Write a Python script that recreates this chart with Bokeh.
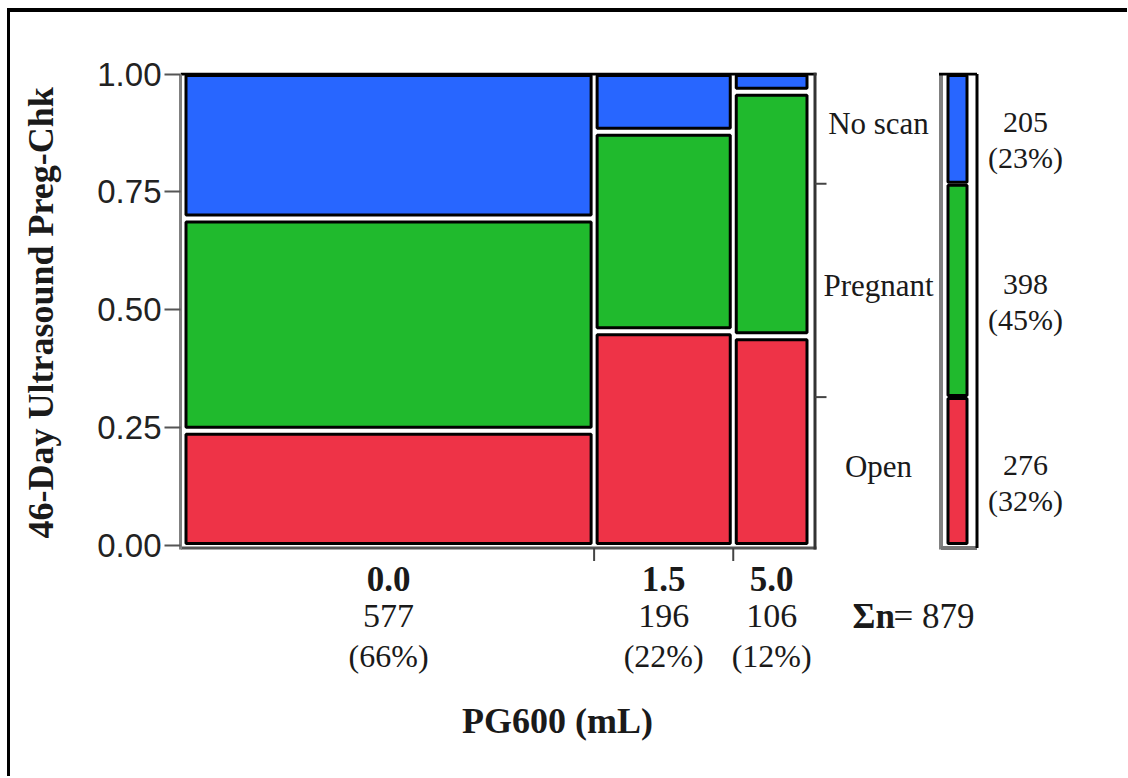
import math
from bokeh.plotting import figure
from bokeh.layouts import row
from bokeh.models import Range1d, LinearAxis, FixedTicker, NumeralTickFormatter
from bokeh.core.properties import value
from bokeh.embed import file_html
from bokeh.resources import INLINE

# ---------------- data ----------------
doses = ["0.0", "1.5", "5.0"]                 # PG600 (mL) groups
levels = ["Open", "Pregnant", "No scan"]      # response levels, bottom to top
open_n = [140, 89, 47]
pregnant_n = [260, 83, 55]
noscan_n = [177, 24, 4]
col_pct_labels = ["(66%)", "(22%)", "(12%)"]
level_pct_labels = ["(32%)", "(45%)", "(23%)"]
level_colors = ["#EE3347", "#20BA2D", "#2866FF"]
y_ticks = [0, 0.25, 0.5, 0.75, 1.0]
x_title = "PG600 (mL)"
y_title = "46-Day Ultrasound Preg-Chk"

counts = [open_n, pregnant_n, noscan_n]
col_tot = [sum(c) for c in zip(*counts)]
N = sum(col_tot)
level_tot = [sum(c) for c in counts]

# ---------------- scales (pixel helpers) ----------------
dx = 1 / 624.0
dy = 1 / 471.0

SERIF = "Liberation Serif"
SANS = "Liberation Sans"
TXT = "#1a1a1a"
H = 764

yr = Range1d(-231.5 * dy, 1 + 1.5 * dy)

# ---------------- y title strip ----------------
pt = figure(width=60, height=H, output_backend="svg", toolbar_location=None,
            x_range=Range1d(0, 60), y_range=yr,
            min_border_left=0, min_border_right=0, min_border_top=60, min_border_bottom=0,
            x_axis_type=None, y_axis_type=None)
pt.outline_line_color = None
pt.xgrid.visible = False
pt.ygrid.visible = False
pt.text(x=[30], y=[0.493], text=[y_title], angle=math.pi / 2, text_font=value(SERIF),
        text_font_style="bold", text_font_size="36px", text_color=TXT,
        text_align="center", text_baseline="middle")

# ---------------- main plot ----------------
p = figure(width=1057, height=H, output_backend="svg", toolbar_location=None,
           x_range=Range1d(-4 * dx, 916 * dx), y_range=yr,
           min_border_left=110, min_border_right=27, min_border_top=60, min_border_bottom=0,
           x_axis_type=None, y_axis_type=None)
p.outline_line_color = None
p.background_fill_color = "white"
p.border_fill_color = "white"

yaxis = LinearAxis(ticker=FixedTicker(ticks=y_ticks), formatter=NumeralTickFormatter(format="0.00"),
                   bounds=(-4.5 * dy, 1.0))
yaxis.axis_line_color = "#808080"
yaxis.axis_line_width = 3
yaxis.major_tick_line_color = "#555555"
yaxis.major_tick_line_width = 2
yaxis.major_tick_out = 16
yaxis.major_tick_in = 0
yaxis.minor_tick_line_color = None
yaxis.major_label_text_font = SANS
yaxis.major_label_text_font_size = "33px"
yaxis.major_label_text_color = "#222222"
yaxis.major_label_standoff = 3
p.add_layout(yaxis, "left")

# ---------------- mosaic cells ----------------
gx, gy = 6 * dx, 7 * dy
L, R, B, T, C = [], [], [], [], []
cx = 0.0
col_centers = []
col_bounds = []
for j in range(len(doses)):
    w = col_tot[j] / N
    l = cx + (gx / 2 if j > 0 else 1.5 * dx)
    r = cx + w - (gx / 2 if j < len(doses) - 1 else 1.5 * dx)
    col_centers.append((l + r) / 2)
    cy = 0.0
    for k in range(len(levels)):
        h = counts[k][j] / col_tot[j]
        b = cy + (gy / 2 if k > 0 else 1.5 * dy)
        t = cy + h - (gy / 2 if k < len(levels) - 1 else 1.5 * dy)
        L.append(l); R.append(r); B.append(b); T.append(t); C.append(level_colors[k])
        cy += h
    cx += w
    if j < len(doses) - 1:
        col_bounds.append(cx)
p.quad(left=L, right=R, bottom=B, top=T, fill_color=C, line_color="black", line_width=3)

# frame lines of the mosaic
x_axis_right = 1 + 6.5 * dx
p.segment(x0=[-4 * dx], y0=[1.0], x1=[1 + 8 * dx], y1=[1.0], line_color="black", line_width=3)
p.segment(x0=[-4 * dx], y0=[-3 * dy], x1=[1 + 8 * dx], y1=[-3 * dy], line_color="#555555", line_width=3)
p.segment(x0=[x_axis_right], y0=[-4.5 * dy], x1=[x_axis_right], y1=[1 + 1.5 * dy],
          line_color="#333333", line_width=3)
# bottom ticks at column boundaries
p.segment(x0=col_bounds, y0=[-3 * dy] * len(col_bounds), x1=col_bounds,
          y1=[-16 * dy] * len(col_bounds), line_color="#444444", line_width=2)

# right axis ticks at marginal boundaries
lev_bounds = []
acc = 0
for t in level_tot[:-1]:
    acc += t
    lev_bounds.append(acc / N)
p.segment(x0=[x_axis_right] * len(lev_bounds), y0=lev_bounds,
          x1=[1 + 18 * dx] * len(lev_bounds), y1=lev_bounds, line_color="#444444", line_width=2)

# level centers
lev_centers = []
acc = 0
for t in level_tot:
    lev_centers.append((acc + t / 2) / N)
    acc += t

# category labels on the right of mosaic
p.text(x=[694 * dx] * 3, y=[c + 5 * dy for c in lev_centers], text=levels,
       text_font=value(SERIF), text_font_size="31px", text_color=TXT,
       text_align="center", text_baseline="middle")

# ---------------- marginal bar ----------------
mb_l, mb_r = 763.5 * dx, 782.5 * dx
bx_l, bx_r = 756.5 * dx, 792.5 * dx
ML, MR, MB, MT = [], [], [], []
cy = 0.0
for k in range(len(levels)):
    h = level_tot[k] / N
    ML.append(mb_l); MR.append(mb_r); MB.append(cy + 1.5 * dy); MT.append(cy + h - 1.5 * dy)
    cy += h
p.quad(left=ML, right=MR, bottom=MB, top=MT, fill_color=level_colors, line_color="black", line_width=3)
p.segment(x0=[bx_l], y0=[-4.5 * dy], x1=[bx_l], y1=[1.0], line_color="#808080", line_width=4)
p.segment(x0=[bx_l], y0=[-3 * dy], x1=[bx_r], y1=[-3 * dy], line_color="#777777", line_width=4)
p.segment(x0=[bx_l - 2 * dx], y0=[1.0], x1=[bx_r], y1=[1.0], line_color="black", line_width=3)
p.segment(x0=[bx_r], y0=[-3 * dy], x1=[bx_r], y1=[1.0], line_color="black", line_width=3)

# counts and percents next to marginal bar
p.text(x=[841 * dx] * 3, y=[c + 6 * dy for c in lev_centers], text=[str(t) for t in level_tot],
       text_font=value(SERIF), text_font_size="30px", text_color=TXT,
       text_align="center", text_baseline="middle")
p.text(x=[841 * dx] * 3, y=[c - 29 * dy for c in lev_centers], text=level_pct_labels,
       text_font=value(SERIF), text_font_size="30px", text_color=TXT,
       text_align="center", text_baseline="middle")

# ---------------- bottom labels ----------------
p.text(x=col_centers, y=[-33.5 * dy] * 3, text=doses, text_font=value(SERIF),
       text_font_style="bold", text_font_size="35px", text_color=TXT,
       text_align="center", text_baseline="middle")
p.text(x=col_centers, y=[-71 * dy] * 3, text=[str(t) for t in col_tot], text_font=value(SERIF),
       text_font_size="34px", text_color=TXT, text_align="center", text_baseline="middle")
p.text(x=col_centers, y=[-111 * dy] * 3, text=col_pct_labels, text_font=value(SERIF),
       text_font_size="32px", text_color=TXT, text_align="center", text_baseline="middle")

p.text(x=[668 * dx], y=[-71 * dy], text=["Σn"], text_font=value(SERIF), text_font_style="bold",
       text_font_size="35px", text_color=TXT, text_align="left", text_baseline="middle")
p.text(x=[709 * dx], y=[-71 * dy], text=["= %d" % N], text_font=value(SERIF),
       text_font_size="35px", text_color=TXT, text_align="left", text_baseline="middle")

p.text(x=[373 * dx], y=[-175.5 * dy], text=[x_title], text_font=value(SERIF), text_font_style="bold",
       text_font_size="36px", text_color=TXT, text_align="center", text_baseline="middle")

p.xgrid.visible = False
p.ygrid.visible = False

layout = row(pt, p, spacing=0)
layout.styles = {"border-top": "4px solid black", "border-left": "3px solid black",
                 "margin-top": "8px", "margin-left": "7px"}

open("out.html", "w").write(file_html(layout, INLINE))
